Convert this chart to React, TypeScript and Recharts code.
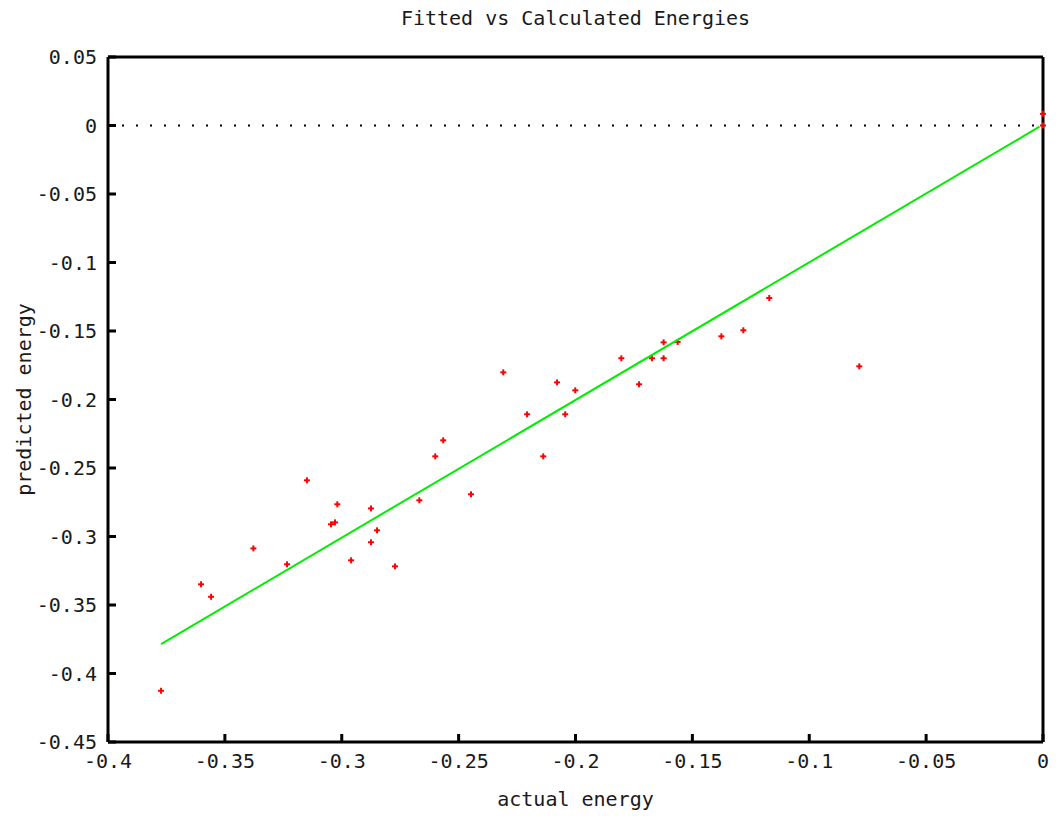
import React from 'react';
import {
  ScatterChart,
  Scatter,
  XAxis,
  YAxis,
  ReferenceLine,
  Label,
} from 'recharts';

// actual (calculated) energy vs. predicted (fitted) energy
const actualEnergy = [
  -0.3773, -0.3602, -0.3559, -0.3378, -0.3234, -0.3149, -0.3046, -0.3029,
  -0.3019, -0.296, -0.2875, -0.2875, -0.2849, -0.2772, -0.2668, -0.26,
  -0.2566, -0.2447, -0.2309, -0.2207, -0.2138, -0.2079, -0.2044, -0.2001,
  -0.1804, -0.1728, -0.1673, -0.1623, -0.1623, -0.1563, -0.1376, -0.1282,
  -0.1171, -0.0786, 0, 0,
];
const predictedEnergy = [
  -0.4126, -0.3349, -0.344, -0.3087, -0.3203, -0.259, -0.2911, -0.2897,
  -0.2765, -0.3174, -0.2795, -0.3042, -0.2955, -0.3218, -0.2736, -0.2415,
  -0.2298, -0.2692, -0.1802, -0.2108, -0.2415, -0.1875, -0.2108, -0.1933,
  -0.1699, -0.1889, -0.1699, -0.1583, -0.1699, -0.158, -0.1539, -0.1495,
  -0.1259, -0.1758, 0.0085, 0,
];

// fitted line end points
const fitX = [-0.3773, -0.0015];
const fitY = [-0.3785, -0.0009];

const xTicks = [-0.4, -0.35, -0.3, -0.25, -0.2, -0.15, -0.1, -0.05, 0];
const yTicks = [0.05, 0, -0.05, -0.1, -0.15, -0.2, -0.25, -0.3, -0.35, -0.4, -0.45];

const points = actualEnergy.map((x, i) => ({ x, y: predictedEnergy[i] }));
const fitLine = fitX.map((x, i) => ({ x, y: fitY[i] }));

const font = '"DejaVu Sans Mono", monospace';
const textFill = '#1a1a1a';
const tickStyle = { fontFamily: font, fontSize: 20, fill: textFill };
const axisLine = { stroke: '#000', strokeWidth: 3 };
const tickLine = { stroke: '#000', strokeWidth: 3 };

const Cross = (props: any) => {
  const { cx, cy } = props;
  return (
    <g>
      <line x1={cx - 3} y1={cy} x2={cx + 3} y2={cy} stroke="#ff0000" strokeWidth={2} />
      <line x1={cx} y1={cy - 3} x2={cx} y2={cy + 3} stroke="#ff0000" strokeWidth={2} />
    </g>
  );
};

const NoDot = () => <g />;

const fmt = (v: number) => String(v);

export default function App() {
  return (
    <div style={{ position: 'absolute', left: 0, top: 0, background: '#fff' }}>
      <ScatterChart width={1056} height={816} margin={{ top: 0, right: 0, bottom: 0, left: 0 }}>
        <XAxis
          xAxisId="bottom"
          dataKey="x"
          type="number"
          domain={[-0.4, 0]}
          ticks={xTicks}
          tickFormatter={fmt}
          height={74}
          tickSize={-8}
          tickMargin={20}
          axisLine={axisLine}
          tickLine={tickLine}
          tick={tickStyle}
        >
          <Label
            value="actual energy"
            position="insideBottom"
            offset={10}
            style={{ fontFamily: font, fontSize: 20, fill: textFill }}
          />
        </XAxis>
        <XAxis
          xAxisId="top"
          orientation="top"
          dataKey="x"
          type="number"
          domain={[-0.4, 0]}
          ticks={xTicks}
          height={57}
          tickSize={-8}
          axisLine={axisLine}
          tickLine={tickLine}
          tick={false}
        >
          <Label
            value="Fitted vs Calculated Energies"
            position="insideTop"
            offset={11}
            style={{ fontFamily: font, fontSize: 20, fill: textFill }}
          />
        </XAxis>
        <YAxis
          yAxisId="left"
          dataKey="y"
          type="number"
          domain={[-0.45, 0.05]}
          ticks={yTicks}
          tickFormatter={fmt}
          width={108}
          tickSize={-8}
          tickMargin={19}
          axisLine={axisLine}
          tickLine={tickLine}
          tick={tickStyle}
        >
          <Label
            value="predicted energy"
            angle={-90}
            position="insideLeft"
            offset={24}
            style={{ fontFamily: font, fontSize: 20, fill: textFill, textAnchor: 'middle' }}
          />
        </YAxis>
        <YAxis
          yAxisId="right"
          orientation="right"
          dataKey="y"
          type="number"
          domain={[-0.45, 0.05]}
          ticks={yTicks}
          width={13}
          tickSize={-8}
          axisLine={axisLine}
          tickLine={tickLine}
          tick={false}
        />
        <ReferenceLine
          xAxisId="bottom"
          yAxisId="left"
          y={0}
          stroke="#000"
          strokeWidth={2}
          strokeDasharray="2 12"
        />
        <Scatter
          xAxisId="bottom"
          yAxisId="left"
          data={points}
          shape={Cross}
          isAnimationActive={false}
        />
        <Scatter
          xAxisId="bottom"
          yAxisId="left"
          data={fitLine}
          line={{ stroke: '#00ee00', strokeWidth: 2 }}
          shape={NoDot}
          isAnimationActive={false}
        />
      </ScatterChart>
    </div>
  );
}
